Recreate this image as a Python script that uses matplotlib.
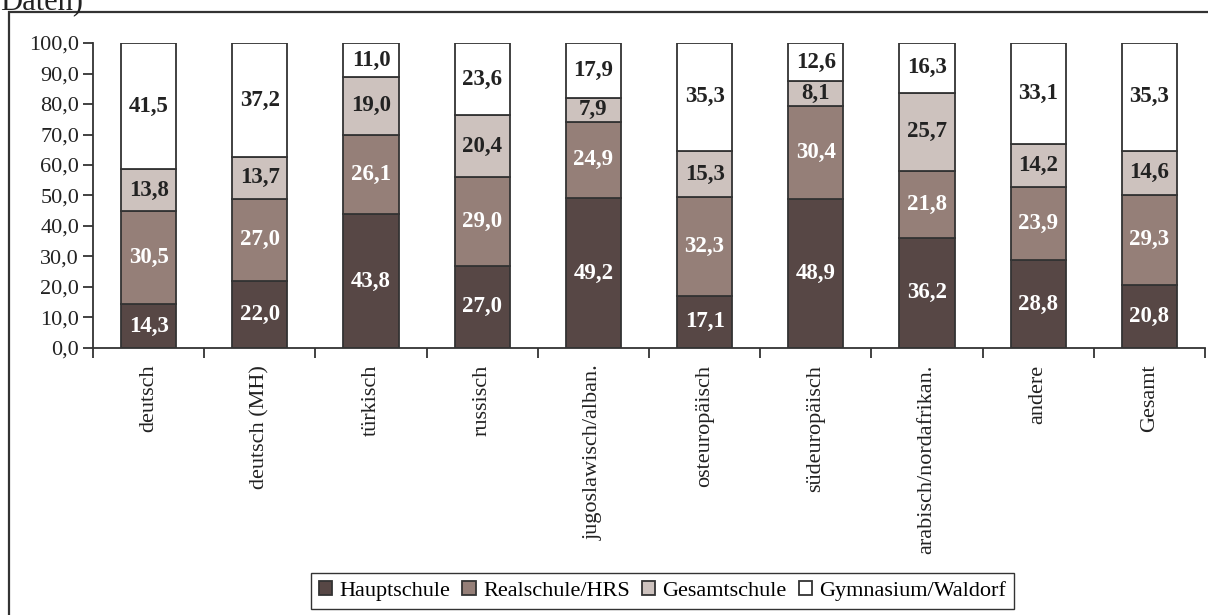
# Schulformen nach Herkunft, gestapelte Balken
import numpy as np
import matplotlib.pyplot as plt
from matplotlib.patches import Rectangle

plt.rcParams['font.family'] = ['Liberation Serif', 'DejaVu Serif']

gruppen = ['deutsch', 'deutsch (MH)', 'türkisch', 'russisch', 'jugoslawisch/alban.',
           'osteuropäisch', 'südeuropäisch', 'arabisch/nordafrikan.', 'andere', 'Gesamt']
hauptschule = [14.3, 22.0, 43.8, 27.0, 49.2, 17.1, 48.9, 36.2, 28.8, 20.8]
realschule = [30.5, 27.0, 26.1, 29.0, 24.9, 32.3, 30.4, 21.8, 23.9, 29.3]
gesamtschule = [13.8, 13.7, 19.0, 20.4, 7.9, 15.3, 8.1, 25.7, 14.2, 14.6]
gymnasium = [41.5, 37.2, 11.0, 23.6, 17.9, 35.3, 12.6, 16.3, 33.1, 35.3]

serien = [('Hauptschule', hauptschule, '#574745', 'white'),
          ('Realschule/HRS', realschule, '#957f78', 'white'),
          ('Gesamtschule', gesamtschule, '#cdc2be', '#222222'),
          ('Gymnasium/Waldorf', gymnasium, '#ffffff', '#222222')]

W, H = 1208, 615
fig = plt.figure(figsize=(W / 100, H / 100), dpi=100)
ax = fig.add_axes([93 / W, 1 - 348 / H, (1205 - 93) / W, (348 - 43) / H])

x = np.arange(len(gruppen))
unten = np.zeros(len(gruppen))
for name, werte, farbe, textfarbe in serien:
    werte = np.array(werte)
    ax.bar(x, werte, 0.495, bottom=unten, color=farbe, edgecolor='#333333',
           linewidth=1.3, label=name)
    for xi, b, v in zip(x, unten, werte):
        ax.text(xi, b + v / 2, f'{v:.1f}'.replace('.', ','), ha='center', va='center',
                fontsize=16.5, fontweight='bold', color=textfarbe)
    unten += werte

ax.set_xlim(-0.5, len(gruppen) - 0.5)
ax.set_ylim(0, 100)
ax.set_yticks(np.arange(0, 101, 10))
ax.set_yticklabels([f'{v:.1f}'.replace('.', ',') for v in np.arange(0, 101, 10)])
ax.set_xticks(x)
ax.set_xticklabels(gruppen, rotation=90)
ax.set_xticks(np.arange(-0.5, len(gruppen)), minor=True)
ax.tick_params(axis='x', which='major', length=0, pad=12, labelsize=16, colors='#222222')
ax.tick_params(axis='x', which='minor', length=7, width=1.3, color='#333333')
ax.tick_params(axis='y', length=7, width=1.3, color='#333333', labelsize=16,
               labelcolor='#222222', pad=3)
for s in ['top', 'right']:
    ax.spines[s].set_visible(False)
for s in ['left', 'bottom']:
    ax.spines[s].set_linewidth(1.3)
    ax.spines[s].set_color('#333333')

# Rahmen um die Grafik
fig.patches.append(Rectangle((9 / W, -0.1), 1.2, 1 - 12 / H + 0.1, transform=fig.transFigure,
                             fill=False, edgecolor='#333333', linewidth=1.6))
fig.text(0, 1 - 9 / H, 'Daten)', fontsize=22, color='#222222', va='baseline', ha='left')

fig.legend(loc='center', bbox_to_anchor=((314 + 1011) / 2 / W, 1 - 591 / H), ncol=4,
           fontsize=16, frameon=True, fancybox=False, edgecolor='#333333', framealpha=1,
           handlelength=0.6, handleheight=0.6, handletextpad=0.32, columnspacing=0.55,
           borderpad=0.36, borderaxespad=0)

plt.savefig('out.png', dpi=100)
